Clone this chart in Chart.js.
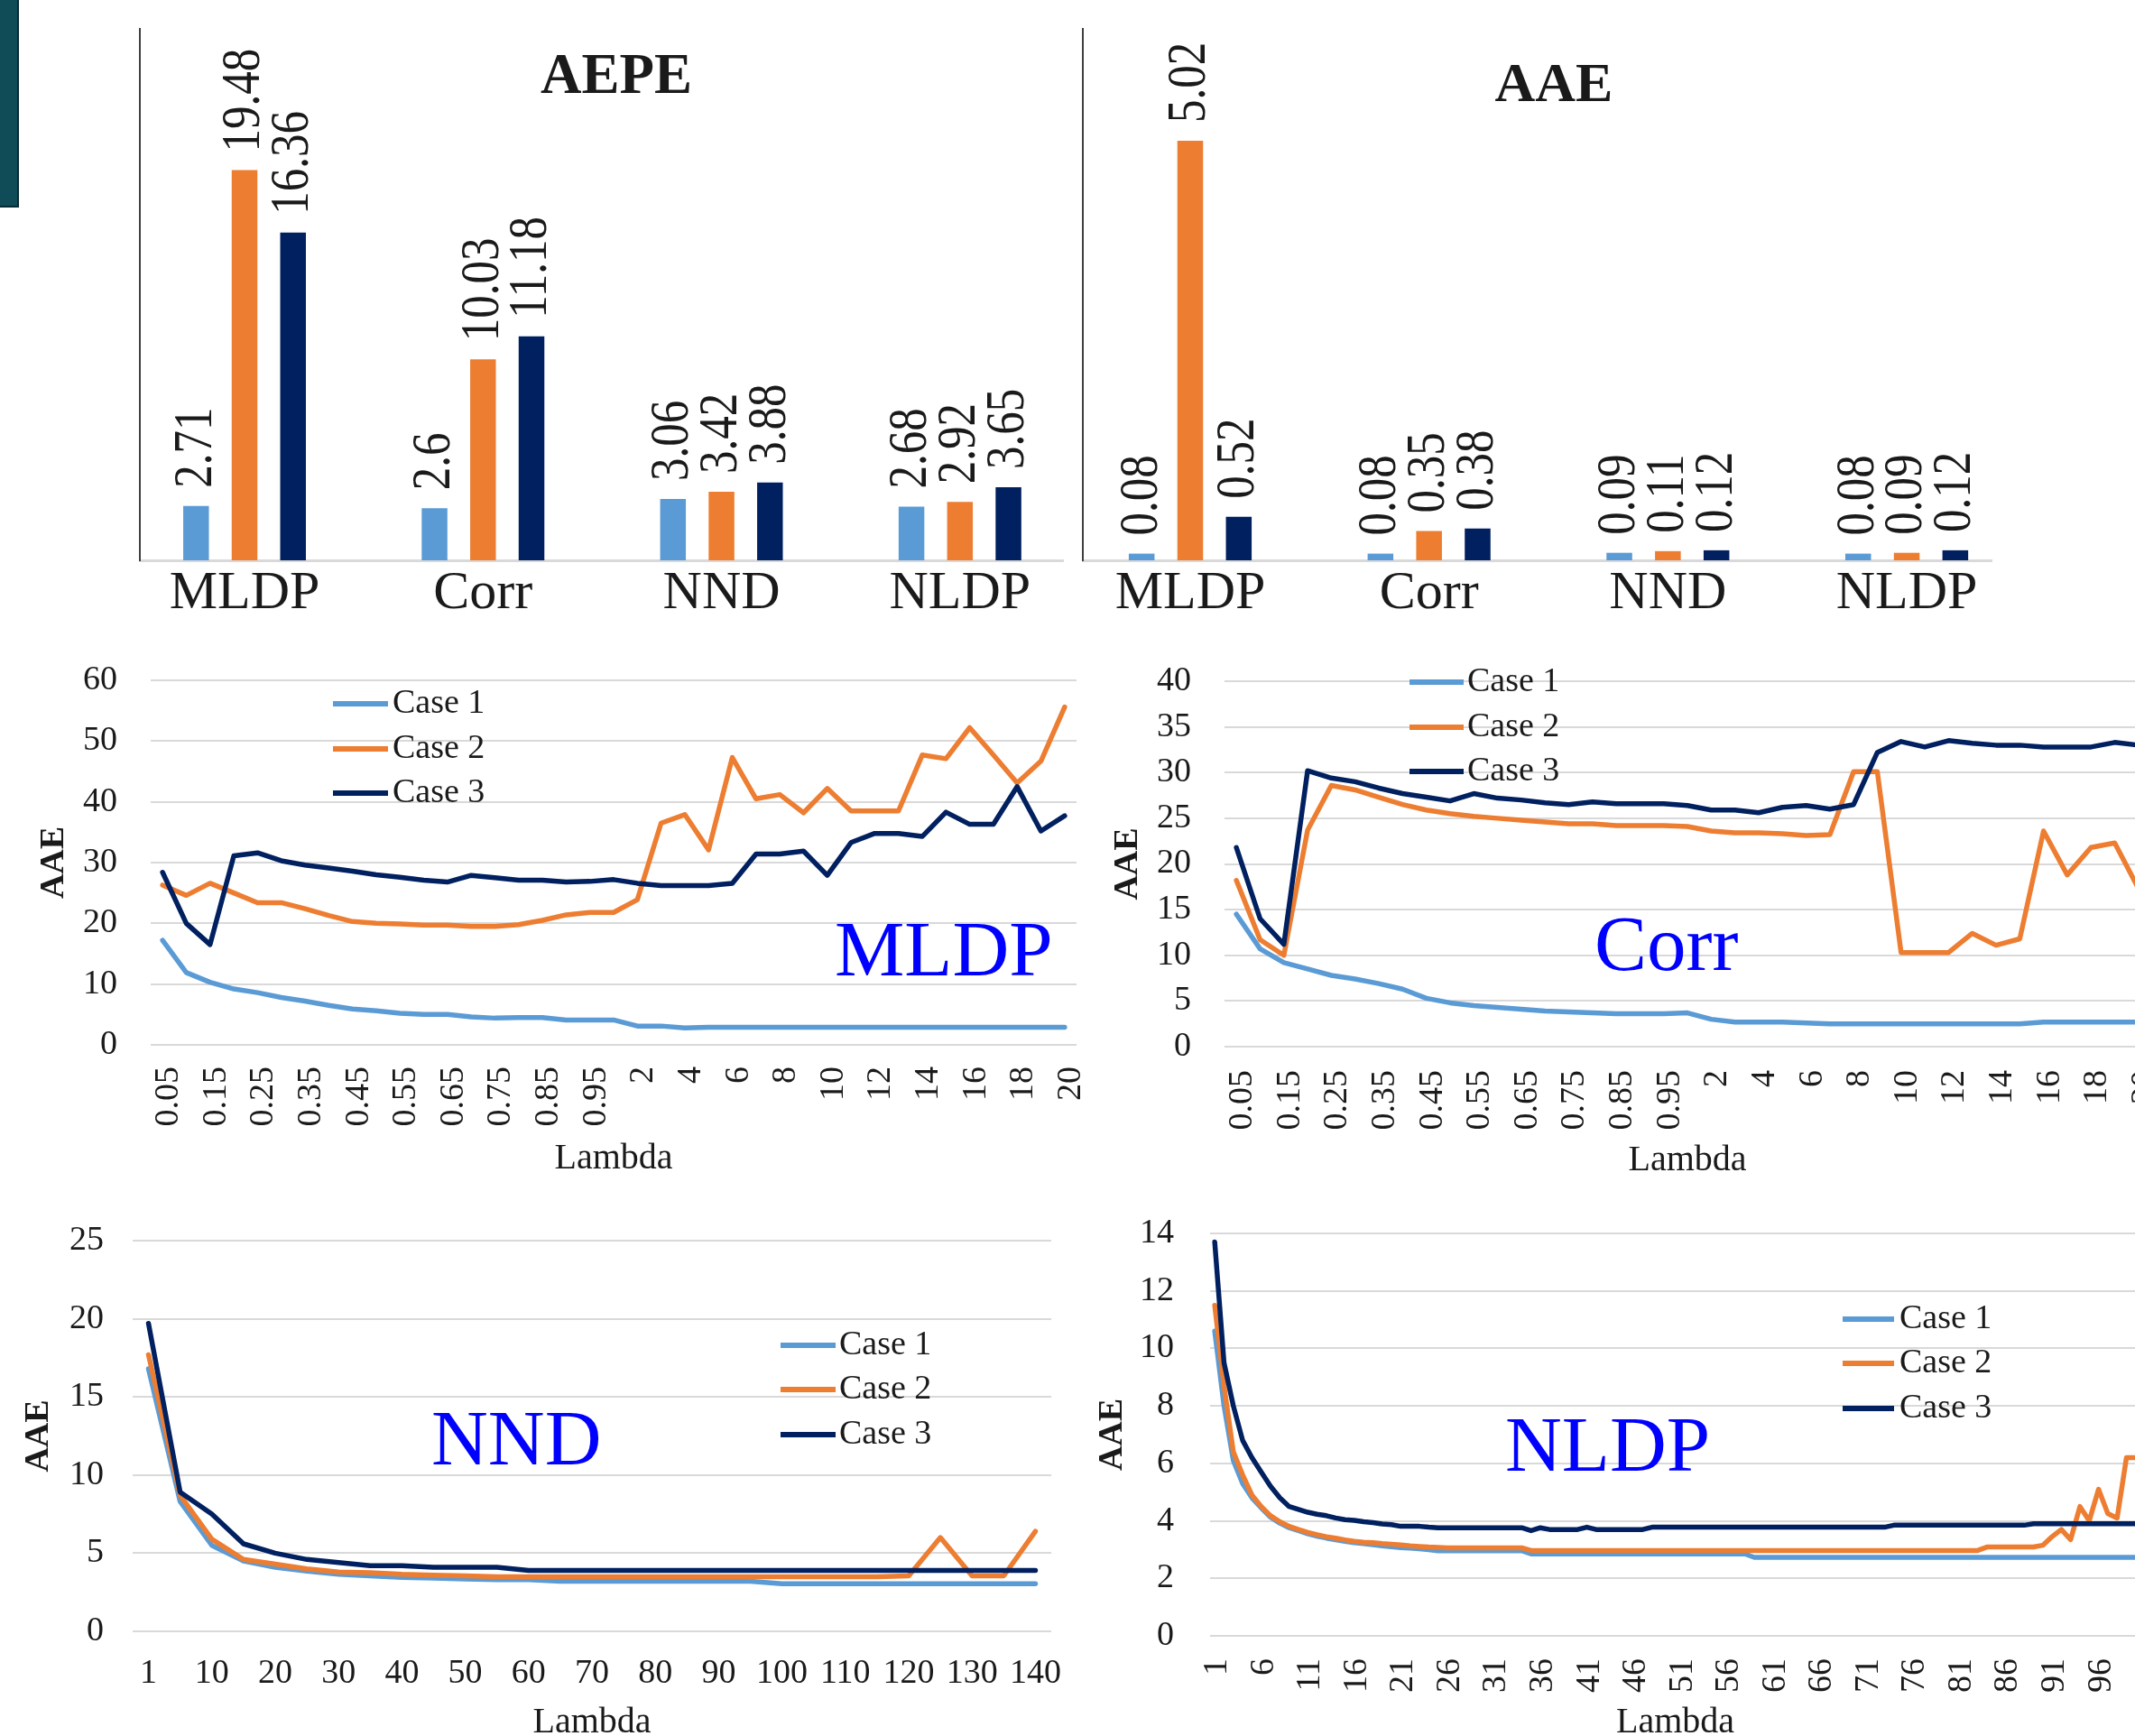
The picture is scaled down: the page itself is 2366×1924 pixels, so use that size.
<!DOCTYPE html>
<html>
<head>
<meta charset="utf-8">
<script src="https://cdn.jsdelivr.net/npm/chart.js@4.4.1/dist/chart.umd.min.js"></script>
<style>
  html, body { margin: 0; padding: 0; background: #fff; }
  body { width: 2366px; height: 1924px; overflow: hidden; position: relative; }
  canvas { position: absolute; }
  #tab { position: absolute; left: 0; top: 0; width: 19px; height: 228px; background: #104b58; border-right: 2px solid #062a33; border-bottom: 2px solid #062a33; }
</style>
</head>
<body>
<div id="tab"></div>
<canvas id="aepe"></canvas>
<canvas id="aae"></canvas>
<canvas id="mldp"></canvas>
<canvas id="corr"></canvas>
<canvas id="nnd"></canvas>
<canvas id="nldp"></canvas>
<script>
// ---- data ----
const methods = ["MLDP", "Corr", "NND", "NLDP"];
const caseNames = ["Case 1", "Case 2", "Case 3"];
const caseColors = ["#5b9bd5", "#ed7d31", "#002060"];

const aepeCase1 = [2.71, 2.6, 3.06, 2.68];
const aepeCase2 = [19.48, 10.03, 3.42, 2.92];
const aepeCase3 = [16.36, 11.18, 3.88, 3.65];

const aaeCase1 = [0.08, 0.08, 0.09, 0.08];
const aaeCase2 = [5.02, 0.35, 0.11, 0.09];
const aaeCase3 = [0.52, 0.38, 0.12, 0.12];

const lambdaA = ["0.05", "0.1", "0.15", "0.2", "0.25", "0.3", "0.35", "0.4", "0.45", "0.5",
  "0.55", "0.6", "0.65", "0.7", "0.75", "0.8", "0.85", "0.9", "0.95", "1",
  "2", "3", "4", "5", "6", "7", "8", "9", "10", "11", "12", "13", "14", "15", "16", "17", "18", "19", "20"];

const mldpCase1 = [17.2, 11.9, 10.3, 9.2, 8.6, 7.8, 7.2, 6.5, 5.9, 5.6, 5.2, 5.0, 5.0, 4.6, 4.4, 4.5, 4.5, 4.1, 4.1, 4.1,
  3.1, 3.1, 2.8, 2.9, 2.9, 2.9, 2.9, 2.9, 2.9, 2.9, 2.9, 2.9, 2.9, 2.9, 2.9, 2.9, 2.9, 2.9, 2.9];
const mldpCase2 = [26.3, 24.6, 26.6, 25.0, 23.4, 23.4, 22.4, 21.3, 20.3, 20.0, 19.9, 19.7, 19.7, 19.5, 19.5, 19.8, 20.5, 21.4, 21.8, 21.8,
  23.9, 36.5, 37.9, 32.1, 47.3, 40.5, 41.2, 38.2, 42.2, 38.5, 38.5, 38.5, 47.7, 47.1, 52.2, 47.7, 43.1, 46.7, 55.6];
const mldpCase3 = [28.4, 20.0, 16.5, 31.1, 31.6, 30.3, 29.6, 29.1, 28.6, 28.0, 27.6, 27.1, 26.8, 27.9, 27.5, 27.1, 27.1, 26.8, 26.9, 27.2,
  26.6, 26.2, 26.2, 26.2, 26.6, 31.4, 31.4, 31.9, 27.9, 33.3, 34.8, 34.8, 34.3, 38.3, 36.3, 36.3, 42.5, 35.2, 37.7];

const corrCase1 = [14.5, 10.7, 9.2, 8.5, 7.8, 7.4, 6.9, 6.3, 5.3, 4.8, 4.5, 4.3, 4.1, 3.9, 3.8, 3.7, 3.6, 3.6, 3.6, 3.7,
  3.0, 2.7, 2.7, 2.7, 2.6, 2.5, 2.5, 2.5, 2.5, 2.5, 2.5, 2.5, 2.5, 2.5, 2.7, 2.7, 2.7, 2.7, 2.7];
const corrCase2 = [18.2, 11.7, 10.0, 23.7, 28.6, 28.1, 27.3, 26.5, 25.9, 25.5, 25.2, 25.0, 24.8, 24.6, 24.4, 24.4, 24.2, 24.2, 24.2, 24.1,
  23.6, 23.4, 23.4, 23.3, 23.1, 23.2, 30.1, 30.1, 10.3, 10.3, 10.3, 12.4, 11.1, 11.8, 23.6, 18.8, 21.8, 22.3, 17.3];
const corrCase3 = [21.8, 14.0, 11.2, 30.2, 29.4, 29.0, 28.3, 27.7, 27.3, 26.9, 27.7, 27.2, 27.0, 26.7, 26.5, 26.8, 26.6, 26.6, 26.6, 26.4,
  25.9, 25.9, 25.6, 26.2, 26.4, 26.0, 26.5, 32.2, 33.4, 32.8, 33.5, 33.2, 33.0, 33.0, 32.8, 32.8, 32.8, 33.3, 33.0];

const lambdaNND = [1, 5, 10, 15, 20, 25, 30, 35, 40, 45, 50, 55, 60, 65, 70, 75, 80, 85, 90, 95, 100, 105, 110, 115, 120, 125, 130, 135, 140];
const nndCase1 = [16.8, 8.3, 5.5, 4.5, 4.1, 3.85, 3.65, 3.55, 3.45, 3.4, 3.35, 3.3, 3.3, 3.2, 3.2, 3.2, 3.2, 3.2, 3.2, 3.2,
  3.05, 3.05, 3.05, 3.05, 3.05, 3.05, 3.05, 3.05, 3.05];
const nndCase2 = [17.7, 8.7, 5.9, 4.6, 4.3, 4.0, 3.8, 3.75, 3.65, 3.6, 3.55, 3.5, 3.5, 3.5, 3.5, 3.5, 3.5, 3.5, 3.5, 3.5,
  3.5, 3.5, 3.5, 3.5, 3.55, 6.0, 3.55, 3.55, 6.4];
const nndCase3 = [19.7, 8.9, 7.5, 5.6, 5.0, 4.6, 4.4, 4.2, 4.2, 4.1, 4.1, 4.1, 3.9, 3.9, 3.9, 3.9, 3.9, 3.9, 3.9, 3.9,
  3.9, 3.9, 3.9, 3.9, 3.9, 3.9, 3.9, 3.9, 3.9];

const lambdaNLDP = [1, 2, 3, 4, 5, 6, 7, 8, 9, 10, 11, 12, 13, 14, 15, 16, 17, 18, 19, 20,
  21, 22, 23, 24, 25, 26, 27, 28, 29, 30, 31, 32, 33, 34, 35, 36, 37, 38, 39, 40,
  41, 42, 43, 44, 45, 46, 47, 48, 49, 50, 51, 52, 53, 54, 55, 56, 57, 58, 59, 60,
  61, 62, 63, 64, 65, 66, 67, 68, 69, 70, 71, 72, 73, 74, 75, 76, 77, 78, 79, 80,
  81, 82, 83, 84, 85, 86, 87, 88, 89, 90, 91, 92, 93, 94, 95, 96, 97, 98, 99, 100];
const nldpCase1 = [10.6, 8.0, 6.1, 5.3, 4.8, 4.45, 4.13, 3.92, 3.76, 3.66, 3.55, 3.47, 3.4, 3.34, 3.29, 3.24, 3.21, 3.17, 3.13, 3.1,
  3.07, 3.05, 3.03, 3.0, 2.96, 2.96, 2.96, 2.96, 2.96, 2.96, 2.96, 2.96, 2.96, 2.96, 2.85, 2.85, 2.85, 2.85, 2.85, 2.85,
  2.85, 2.85, 2.85, 2.85, 2.85, 2.85, 2.85, 2.85, 2.85, 2.85, 2.85, 2.85, 2.85, 2.85, 2.85, 2.85, 2.85, 2.85, 2.73, 2.73,
  2.73, 2.73, 2.73, 2.73, 2.73, 2.73, 2.73, 2.73, 2.73, 2.73, 2.73, 2.73, 2.73, 2.73, 2.73, 2.73, 2.73, 2.73, 2.73, 2.73,
  2.73, 2.73, 2.73, 2.73, 2.73, 2.73, 2.73, 2.73, 2.73, 2.73, 2.73, 2.73, 2.73, 2.73, 2.73, 2.73, 2.73, 2.73, 2.73, 2.73];
const nldpCase2 = [11.5, 8.7, 6.4, 5.6, 4.9, 4.5, 4.18, 3.97, 3.81, 3.7, 3.6, 3.52, 3.45, 3.4, 3.34, 3.29, 3.26, 3.24, 3.21, 3.19,
  3.16, 3.13, 3.11, 3.09, 3.08, 3.06, 3.06, 3.06, 3.06, 3.06, 3.06, 3.06, 3.06, 3.06, 2.97, 2.97, 2.97, 2.97, 2.97, 2.97,
  2.97, 2.97, 2.97, 2.97, 2.97, 2.97, 2.97, 2.97, 2.97, 2.97, 2.97, 2.97, 2.97, 2.97, 2.97, 2.97, 2.97, 2.97, 2.97, 2.97,
  2.97, 2.97, 2.97, 2.97, 2.97, 2.97, 2.97, 2.97, 2.97, 2.97, 2.97, 2.97, 2.97, 2.97, 2.97, 2.97, 2.97, 2.97, 2.97, 2.97,
  2.97, 2.97, 2.97, 3.09, 3.09, 3.09, 3.09, 3.09, 3.09, 3.15, 3.45, 3.7, 3.35, 4.5, 4.0, 5.1, 4.25, 4.1, 6.2, 6.2];
const nldpCase3 = [13.7, 9.5, 8.0, 6.8, 6.2, 5.7, 5.2, 4.8, 4.5, 4.4, 4.3, 4.23, 4.18, 4.1, 4.04, 4.02, 3.97, 3.94, 3.89, 3.87,
  3.81, 3.81, 3.81, 3.78, 3.76, 3.76, 3.76, 3.76, 3.76, 3.76, 3.76, 3.76, 3.76, 3.76, 3.66, 3.76, 3.7, 3.7, 3.7, 3.7,
  3.78, 3.7, 3.7, 3.7, 3.7, 3.7, 3.7, 3.78, 3.78, 3.78, 3.78, 3.78, 3.78, 3.78, 3.78, 3.78, 3.78, 3.78, 3.78, 3.78,
  3.78, 3.78, 3.78, 3.78, 3.78, 3.78, 3.78, 3.78, 3.78, 3.78, 3.78, 3.78, 3.78, 3.85, 3.85, 3.85, 3.85, 3.85, 3.85, 3.85,
  3.85, 3.85, 3.85, 3.85, 3.85, 3.85, 3.85, 3.85, 3.9, 3.9, 3.9, 3.9, 3.9, 3.9, 3.9, 3.9, 3.9, 3.9, 3.9, 3.9];

// ---- layout (page pixels) ----
const serif = "'Liberation Serif', 'Times New Roman', serif";
const ink = "#1a1a1a";
Chart.defaults.font.family = serif;
Chart.defaults.color = ink;
Chart.defaults.animation = false;

// size and place a canvas so that its chart area lands on f.area
function place(canvas, f) {
  const left = f.area.l - f.yw - f.pad.l;
  const top = f.area.t - f.pad.t;
  const w = f.area.r + f.pad.r - left;
  const h = f.area.b + f.xh - top;
  canvas.width = w;
  canvas.height = h;
  canvas.style.left = left + "px";
  canvas.style.top = top + "px";
  canvas.style.width = w + "px";
  canvas.style.height = h + "px";
}

// texts, inner legend and bar value labels drawn on top of the plot
const decor = {
  id: "decor",
  afterDatasetsDraw(chart, args, opts) {
    const { ctx, chartArea: a } = chart;
    ctx.save();
    (opts.texts || []).forEach((t) => {
      ctx.font = t.font;
      ctx.fillStyle = t.color || ink;
      ctx.textAlign = t.align || "left";
      ctx.textBaseline = "alphabetic";
      ctx.fillText(t.text, a.left + t.x, a.top + t.y);
    });
    if (opts.legend) {
      const L = opts.legend;
      chart.data.datasets.forEach((ds, i) => {
        const y = a.top + L.rows[i];
        ctx.strokeStyle = ds.borderColor;
        ctx.lineWidth = 6;
        ctx.beginPath();
        ctx.moveTo(a.left + L.x0, y);
        ctx.lineTo(a.left + L.x1, y);
        ctx.stroke();
        ctx.font = "38px " + serif;
        ctx.fillStyle = ink;
        ctx.textAlign = "left";
        ctx.textBaseline = "middle";
        ctx.fillText(ds.label, a.left + L.tx, y);
      });
    }
    if (opts.barLabels) {
      chart.data.datasets.forEach((ds, i) => {
        chart.getDatasetMeta(i).data.forEach((bar, j) => {
          ctx.save();
          ctx.translate(bar.x, bar.y - 20);
          ctx.rotate(-Math.PI / 2);
          ctx.scale(1, 1.22);
          ctx.font = "51px " + serif;
          ctx.fillStyle = ink;
          ctx.textAlign = "left";
          ctx.textBaseline = "middle";
          ctx.fillText(String(ds.data[j].y), 0, 0);
          ctx.restore();
        });
      });
    }
    ctx.restore();
  },
};

function barChart(id, f, series, yMax, title) {
  const canvas = document.getElementById(id);
  place(canvas, f);
  new Chart(canvas, {
    type: "bar",
    data: {
      datasets: series.map((vals, k) => ({
        label: caseNames[k],
        data: vals.map((v, i) => ({ x: i, y: v })),
        backgroundColor: caseColors[k],
        borderWidth: 0,
        categoryPercentage: 0.61,
        barPercentage: 0.53,
      })),
    },
    options: {
      responsive: false,
      layout: { padding: { left: f.pad.l, top: f.pad.t, right: f.pad.r, bottom: 0 } },
      plugins: {
        legend: { display: false },
        tooltip: { enabled: false },
        decor: { barLabels: true, texts: [title] },
      },
      scales: {
        x: {
          type: "linear",
          min: f.xMin,
          max: f.xMax,
          offset: false,
          grid: { display: false, drawTicks: false },
          border: { display: true, color: "#d9d9d9", width: 3 },
          afterBuildTicks: (s) => { s.ticks = methods.map((m, i) => ({ value: i })); },
          ticks: { autoSkip: false, maxRotation: 0, padding: 1, font: { size: 60 }, color: ink, callback: (v) => methods[v] },
          afterFit: (s) => { s.height = f.xh; },
        },
        y: {
          min: 0,
          max: yMax,
          ticks: { display: false },
          grid: { display: false, drawTicks: false },
          border: { display: true, color: "#404040", width: 2 },
          afterFit: (s) => { s.width = f.yw; },
        },
      },
    },
    plugins: [decor],
  });
}

function lineChart(id, f, labels, series, yMax, yStep, show, rot, extra) {
  const canvas = document.getElementById(id);
  place(canvas, f);
  new Chart(canvas, {
    type: "line",
    data: {
      labels: labels,
      datasets: series.map((vals, k) => ({
        label: caseNames[k],
        data: vals,
        borderColor: caseColors[k],
        backgroundColor: caseColors[k],
        borderWidth: 5.5,
        pointRadius: 0,
        tension: 0,
        fill: false,
        borderJoinStyle: "round",
        borderCapStyle: "round",
        order: 3 - k,
      })),
    },
    options: {
      responsive: false,
      layout: { padding: { left: f.pad.l, top: f.pad.t, right: f.pad.r, bottom: 0 } },
      plugins: {
        legend: { display: false },
        tooltip: { enabled: false },
        decor: extra,
      },
      scales: {
        x: {
          offset: true,
          grid: { display: false, drawTicks: false },
          border: { display: false },
          ticks: {
            autoSkip: false,
            minRotation: rot,
            maxRotation: rot,
            padding: f.xPad,
            labelOffset: f.xShift,
            font: { size: 38 },
            color: ink,
            callback: function (v, i) { return show(i) ? String(this.getLabelForValue(v)) : ""; },
          },
          title: { display: true, text: "Lambda", font: { size: 40 }, color: ink, padding: { top: 0, bottom: f.xtPad } },
          afterFit: (s) => { s.height = f.xh; },
        },
        y: {
          min: 0,
          max: yMax,
          ticks: { stepSize: yStep, autoSkip: false, padding: f.yPad, font: { size: 38 }, color: ink },
          grid: { color: "#d9d9d9", lineWidth: 2, drawTicks: false },
          border: { display: false },
          title: { display: true, text: "AAE", font: { size: 38, weight: "bold" }, color: ink, padding: { top: f.ytPad, bottom: 0 } },
          afterFit: (s) => { s.width = f.yw; },
        },
      },
    },
    plugins: [decor],
  });
}

const barPad = { l: 20, t: 20, r: 20 };
const linePad = { l: 40, t: 90, r: 130 };

// ---- top row: bar charts ----
barChart("aepe",
  { area: { l: 155, r: 1178, t: 32, b: 621 }, yw: 0, xh: 80, pad: barPad, xMin: -0.439, xMax: 3.432 },
  [aepeCase1, aepeCase2, aepeCase3], 26.53,
  { text: "AEPE", x: 528, y: 71, align: "center", font: "bold 63px " + serif });

barChart("aae",
  { area: { l: 1200, r: 2207, t: 32, b: 621 }, yw: 0, xh: 80, pad: barPad, xMin: -0.4496, xMax: 3.355 },
  [aaeCase1, aaeCase2, aaeCase3], 6.36,
  { text: "AAE", x: 522, y: 80, align: "center", font: "bold 62px " + serif });

// ---- middle row ----
lineChart("mldp",
  { area: { l: 167, r: 1193, t: 754, b: 1158 }, yw: 150, xh: 150, pad: linePad, xPad: 24, xShift: 7, xtPad: 0, yPad: 37, ytPad: 20 },
  lambdaA, [mldpCase1, mldpCase2, mldpCase3], 60, 10, (i) => i % 2 === 0, 90,
  { texts: [{ text: "MLDP", x: 758, y: 327, color: "#0000ff", font: "87px " + serif }],
    legend: { x0: 202, x1: 263, tx: 268, rows: [26, 76, 125] } });

lineChart("corr",
  { area: { l: 1357, r: 2383, t: 755, b: 1160 }, yw: 150, xh: 150, pad: linePad, xPad: 26, xShift: 7, xtPad: 0, yPad: 37, ytPad: 20 },
  lambdaA, [corrCase1, corrCase2, corrCase3], 40, 5, (i) => i % 2 === 0, 90,
  { texts: [{ text: "Corr", x: 410, y: 320, color: "#0000ff", font: "87px " + serif }],
    legend: { x0: 205, x1: 265, tx: 269, rows: [1, 51, 100] } });

// ---- bottom row ----
lineChart("nnd",
  { area: { l: 147, r: 1165, t: 1375, b: 1808 }, yw: 130, xh: 142, pad: linePad, xPad: 24, xShift: 0, xtPad: 17, yPad: 32, ytPad: 3 },
  lambdaNND, [nndCase1, nndCase2, nndCase3], 25, 5, (i) => i % 2 === 0, 0,
  { texts: [{ text: "NND", x: 331, y: 248, color: "#0000ff", font: "87px " + serif }],
    legend: { x0: 718, x1: 779, tx: 783, rows: [116, 165, 215] } });

lineChart("nldp",
  { area: { l: 1341, r: 2372, t: 1367, b: 1813 }, yw: 150, xh: 137, pad: linePad, xPad: 25, xShift: 3, xtPad: 17, yPad: 40, ytPad: 19 },
  lambdaNLDP, [nldpCase1, nldpCase2, nldpCase3], 14, 2, (i) => i % 5 === 0, 90,
  { texts: [{ text: "NLDP", x: 327, y: 263, color: "#0000ff", font: "87px " + serif }],
    legend: { x0: 701, x1: 758, tx: 764, rows: [95, 144, 194] } });
</script>
</body>
</html>
